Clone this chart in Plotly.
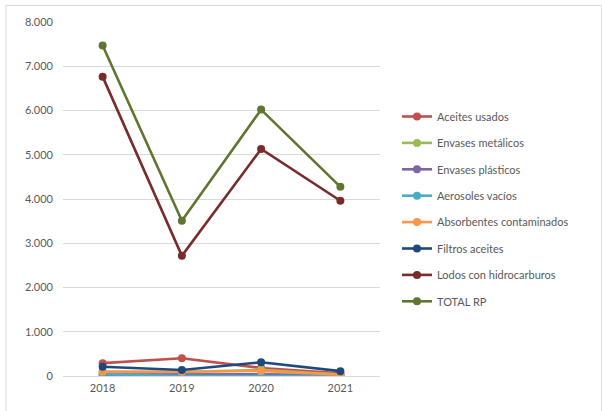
import plotly.graph_objects as go

years = ["2018", "2019", "2020", "2021"]

aceites_usados = [290, 400, 180, 60]
envases_metalicos = [90, 90, 140, 30]
envases_plasticos = [30, 30, 40, 20]
aerosoles_vacios = [40, 0, 0, 0]
absorbentes = [100, 95, 115, 30]
filtros_aceites = [210, 135, 310, 110]
lodos = [6765, 2715, 5130, 3960]
total_rp = [7470, 3510, 6020, 4275]

series_names = ["Aceites usados", "Envases metálicos", "Envases plásticos", "Aerosoles vacíos",
                "Absorbentes contaminados", "Filtros aceites", "Lodos con hidrocarburos", "TOTAL RP"]
series_values = [aceites_usados, envases_metalicos, envases_plasticos, aerosoles_vacios,
                 absorbentes, filtros_aceites, lodos, total_rp]
series_colors = ["#C0504D", "#9BBB59", "#8064A2", "#4BACC6",
                 "#F79646", "#1F497D", "#772C2A", "#5F7530"]

y_ticks = [0, 1000, 2000, 3000, 4000, 5000, 6000, 7000, 8000]

fig = go.Figure()
for i, (name, vals, col) in enumerate(zip(series_names, series_values, series_colors)):
    fig.add_trace(go.Scatter(
        x=years, y=vals, name=name, mode="lines+markers",
        line=dict(color=col, width=2.6),
        marker=dict(color=col, size=8),
        legendgroup="g%d" % i,
    ))

font_family = "Lato, 'Open Sans', sans-serif"
W, H = 602, 411
L, R, T, B = 63, 222, 22, 35
pw = W - L - R
ph = H - T - B

fig.update_layout(
    width=W, height=H,
    margin=dict(l=L, r=R, t=T, b=B, pad=0),
    paper_bgcolor="white", plot_bgcolor="white",
    separators=",.",
    font=dict(family=font_family, size=11, color="#595959"),
    showlegend=True,
    legend=dict(
        x=(397 - L) / pw, xanchor="left",
        y=(H - B - 102) / ph, yanchor="top",
        traceorder="grouped", tracegroupgap=7.4,
        font=dict(family=font_family, size=11, color="#595959"),
        bgcolor="rgba(0,0,0,0)", itemwidth=30,
    ),
    xaxis=dict(
        type="category", range=[-0.5, 3.5],
        showgrid=False, showline=False, zeroline=False,
        ticks="", ticklabelstandoff=4,
        tickfont=dict(size=11, color="#595959"),
    ),
    yaxis=dict(
        range=[0, 8000], tickvals=y_ticks, tickformat=",d",
        showgrid=True, gridcolor="#D9D9D9", gridwidth=1,
        zeroline=True, zerolinecolor="#D9D9D9", zerolinewidth=1,
        showline=False, ticks="", ticklabelstandoff=9,
        tickfont=dict(size=11, color="#595959"),
    ),
    shapes=[dict(
        type="rect", xref="paper", yref="paper",
        x0=(6 - L) / pw, x1=(601.5 - L) / pw,
        y0=(H - B - 420) / ph, y1=(H - B - 5.5) / ph,
        line=dict(color="#D9D9D9", width=1), fillcolor="rgba(0,0,0,0)",
        layer="below",
    )],
)

fig.write_html("out.html", config={"displayModeBar": False},
               post_script="document.body.style.margin='0';")
